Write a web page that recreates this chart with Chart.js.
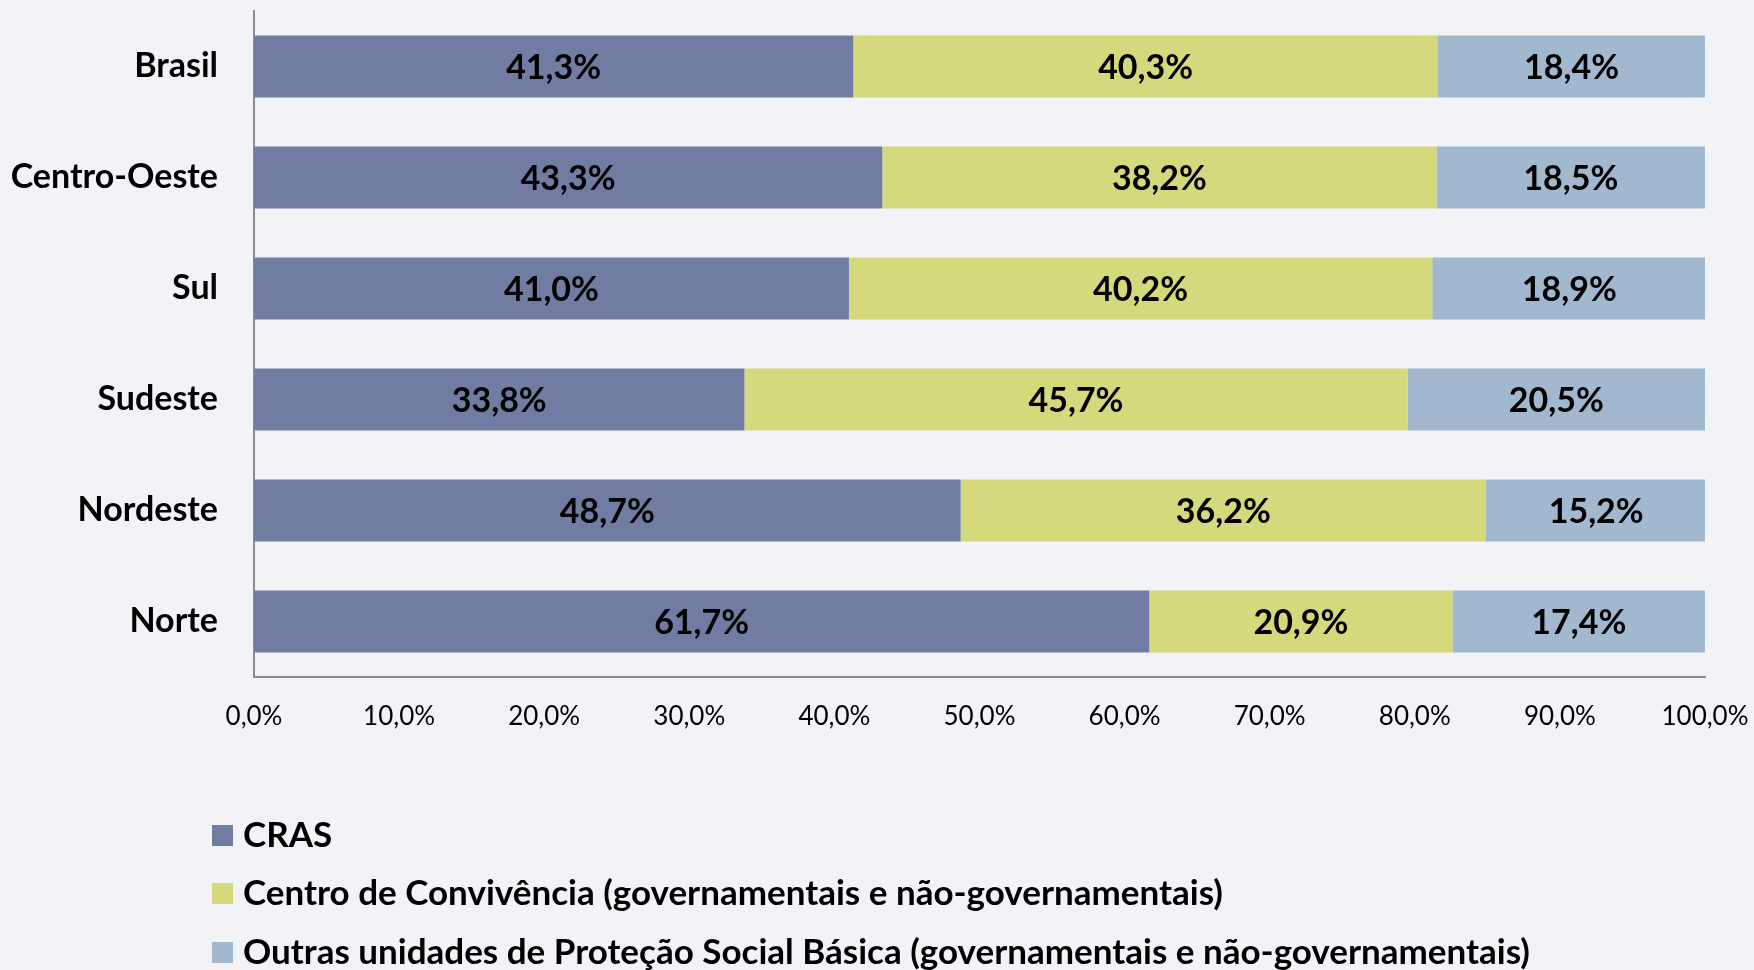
<!DOCTYPE html>
<html>
<head>
<meta charset="utf-8">
<script src="https://cdn.jsdelivr.net/npm/chart.js@4"></script>
<style>
  html, body { margin: 0; padding: 0; background: #f2f3f7; }
  #wrap { width: 1754px; height: 970px; position: relative; }
</style>
</head>
<body>
<div id="wrap"><canvas id="chart" width="1754" height="970"></canvas></div>
<script>
var regions = ["Brasil", "Centro-Oeste", "Sul", "Sudeste", "Nordeste", "Norte"];
var cras = [41.3, 43.3, 41.0, 33.8, 48.7, 61.7];
var convivencia = [40.3, 38.2, 40.2, 45.7, 36.2, 20.9];
var outras = [18.4, 18.5, 18.9, 20.5, 15.2, 17.4];
var seriesNames = [
  "CRAS",
  "Centro de Convivência (governamentais e não-governamentais)",
  "Outras unidades de Proteção Social Básica (governamentais e não-governamentais)"
];

var FONT = "Lato";

function pct(v){
  return v.toFixed(1).replace(".", ",") + "%";
}

// labels in the middle of every segment
var barLabels = {
  id: "barLabels",
  afterDatasetsDraw: function(chart){
    var ctx = chart.ctx;
    ctx.save();
    ctx.font = "bold 34px " + FONT;
    ctx.fillStyle = "#000";
    ctx.textAlign = "center";
    ctx.textBaseline = "middle";
    chart.data.datasets.forEach(function(ds, i){
      chart.getDatasetMeta(i).data.forEach(function(bar, j){
        var cx = (bar.x + bar.base) / 2;
        ctx.fillText(pct(ds.data[j]), cx, bar.y + 2);
      });
    });
    ctx.restore();
  }
};

// legend as a vertical list under the axis
var listLegend = {
  id: "listLegend",
  afterDraw: function(chart){
    var ctx = chart.ctx;
    var ys = [835, 893, 952];
    ctx.save();
    ctx.font = "bold 35px " + FONT;
    ctx.textBaseline = "middle";
    chart.data.datasets.forEach(function(ds, i){
      ctx.fillStyle = ds.backgroundColor;
      ctx.fillRect(212, ys[i] - 10, 21, 21);
      ctx.fillStyle = "#000";
      ctx.fillText(ds.label, 243, ys[i] + 1);
    });
    ctx.restore();
  }
};

var ctx = document.getElementById("chart").getContext("2d");
new Chart(ctx, {
  type: "bar",
  data: {
    labels: regions,
    datasets: [
      { label: seriesNames[0], data: cras, backgroundColor: "#717ca3" },
      { label: seriesNames[1], data: convivencia, backgroundColor: "#d4da7c" },
      { label: seriesNames[2], data: outras, backgroundColor: "#a1b8cf" }
    ]
  },
  options: {
    indexAxis: "y",
    responsive: false,
    animation: false,
    layout: { padding: { top: 11, right: 49, left: 0, bottom: 0 } },
    datasets: { bar: { categoryPercentage: 1, barPercentage: 0.56 } },
    plugins: { legend: { display: false }, tooltip: { enabled: false } },
    scales: {
      x: {
        stacked: true,
        min: 0,
        max: 100,
        grid: { display: false, drawTicks: false },
        border: { display: true, color: "#8c8c8c", width: 2 },
        ticks: {
          stepSize: 10,
          padding: 24,
          color: "#000",
          font: { family: FONT, size: 26 },
          callback: function(v){ return pct(v); }
        },
        afterFit: function(scale){
          scale.height = 293;
          scale.paddingLeft = 0;
          scale.paddingRight = 0;
        }
      },
      y: {
        stacked: true,
        grid: { display: false, drawTicks: false },
        border: { display: true, color: "#8c8c8c", width: 2 },
        ticks: {
          padding: 36,
          color: "#000",
          font: { family: FONT, size: 34, weight: "bold" }
        },
        afterFit: function(scale){
          scale.width = 254;
          scale.paddingTop = 0;
          scale.paddingBottom = 0;
        }
      }
    }
  },
  plugins: [barLabels, listLegend]
});
</script>
</body>
</html>
